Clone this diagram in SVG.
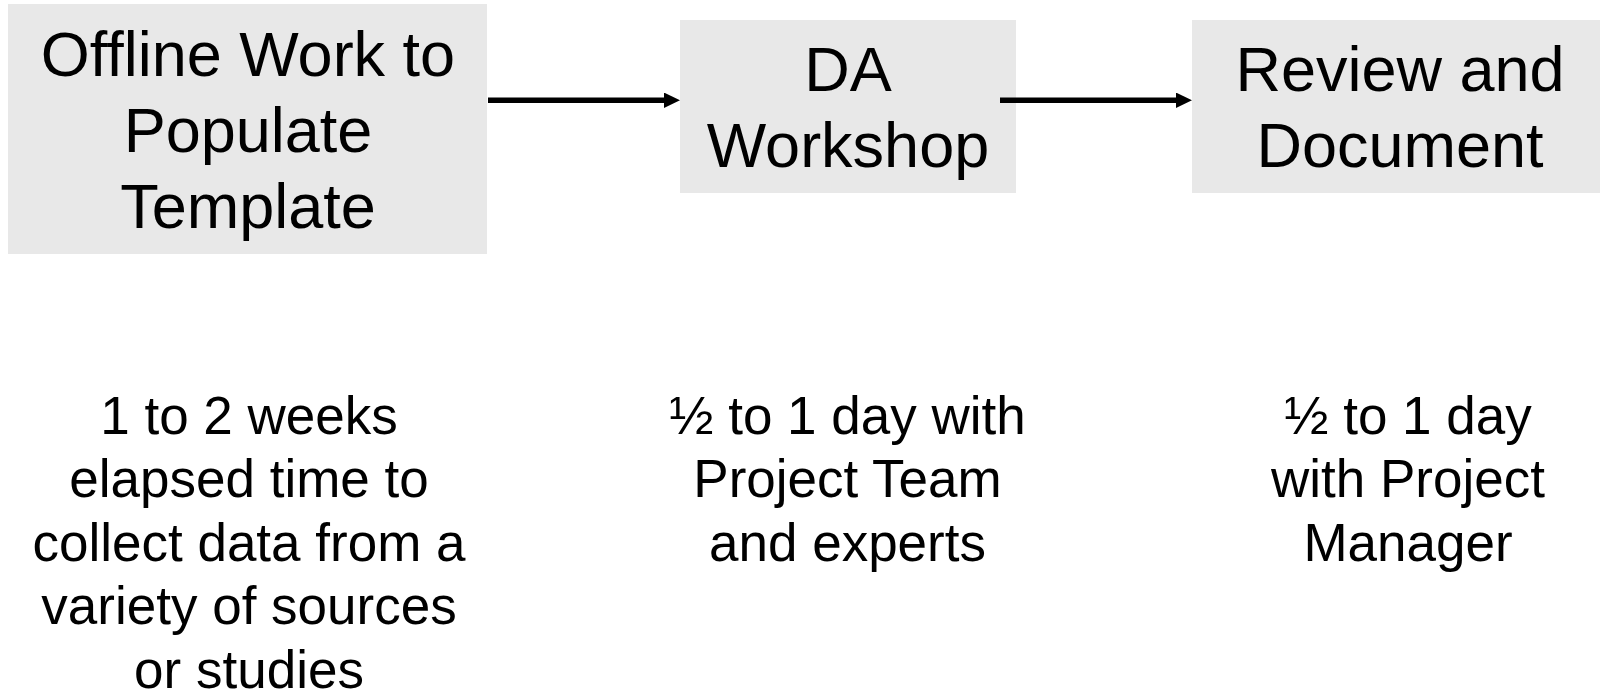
<svg xmlns="http://www.w3.org/2000/svg" width="1600" height="692" viewBox="0 0 1600 692">
<style>
.box{fill:#E8E8E8;stroke:none}
.t{font-family:"Liberation Sans",Arial,sans-serif;fill:#000;text-anchor:middle}
.big{font-size:63px}
.small{font-size:53px}
.conn{stroke:#000;stroke-width:5.5;fill:none}
</style>
<defs>
<marker id="ah" markerUnits="userSpaceOnUse" markerWidth="17" markerHeight="16" refX="0" refY="7.75" orient="auto">
<path d="M0,0 L16,7.75 L0,15.5 Z" fill="#000"/>
</marker>
</defs>
<rect width="1600" height="692" fill="#fff"/>
<g id="node-offline">
<rect class="box" x="8" y="4" width="479" height="250"/>
<text class="t big" x="248" y="76">Offline Work to</text>
<text class="t big" x="248" y="152">Populate</text>
<text class="t big" x="248" y="228">Template</text>
</g>
<g id="node-workshop">
<rect class="box" x="680" y="20" width="336" height="173"/>
<text class="t big" x="848" y="91">DA</text>
<text class="t big" x="848" y="167">Workshop</text>
</g>
<g id="node-review">
<rect class="box" x="1192" y="20" width="408" height="173"/>
<text class="t big" x="1400" y="91">Review and</text>
<text class="t big" x="1400" y="167">Document</text>
</g>
<g id="note-offline">
<text class="t small" x="249" y="433.5">1 to 2 weeks</text>
<text class="t small" x="249" y="497">elapsed time to</text>
<text class="t small" x="249" y="560.5">collect data from a</text>
<text class="t small" x="249" y="624">variety of sources</text>
<text class="t small" x="249" y="687.5">or studies</text>
</g>
<g id="note-workshop">
<text class="t small" x="847.5" y="433.5">½ to 1 day with</text>
<text class="t small" x="847.5" y="497">Project Team</text>
<text class="t small" x="847.5" y="560.5">and experts</text>
</g>
<g id="note-review">
<text class="t small" x="1408" y="433.5">½ to 1 day</text>
<text class="t small" x="1408" y="497">with Project</text>
<text class="t small" x="1408" y="560.5">Manager</text>
</g>
<g id="connectors">
<line class="conn" x1="488" y1="100.3" x2="664" y2="100.3" marker-end="url(#ah)"/>
<line class="conn" x1="1000" y1="100.3" x2="1176" y2="100.3" marker-end="url(#ah)"/>
</g>
</svg>
